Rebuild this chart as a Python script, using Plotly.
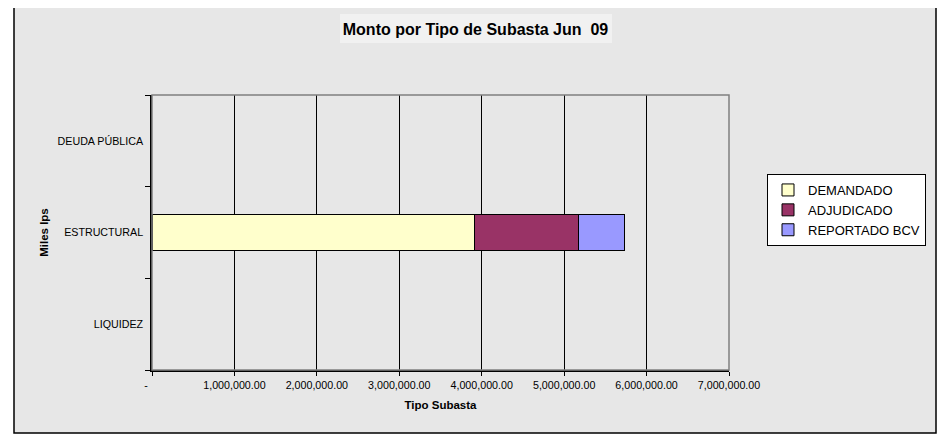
import plotly.graph_objects as go

categories = ["LIQUIDEZ", "ESTRUCTURAL", "DEUDA PÚBLICA"]
demandado = [None, 3913000, None]
adjudicado = [None, 1267000, None]
reportado = [None, 553000, None]
series_names = ["DEMANDADO", "ADJUDICADO", "REPORTADO BCV"]
series_colors = ["#FFFFCC", "#993366", "#9999FF"]
tick_vals = [0, 1000000, 2000000, 3000000, 4000000, 5000000, 6000000, 7000000]
tick_text = ["-\u00a0\u00a0\u00a0\u00a0", "1,000,000.00", "2,000,000.00", "3,000,000.00",
             "4,000,000.00", "5,000,000.00", "6,000,000.00", "7,000,000.00"]

FONT = "Liberation Sans, Arial, sans-serif"

fig = go.Figure()
for name, vals, col in zip(series_names, [demandado, adjudicado, reportado], series_colors):
    fig.add_trace(go.Bar(
        y=categories, x=vals, name=name, orientation="h",
        marker=dict(color=col, line=dict(color="#000000", width=1)),
    ))

# page body has an 8px margin; compensate so screen coordinates match
OFF = 8
W, H = 947 - OFF, 435 - OFF
L, R, T, B = 152 - OFF, 729 - OFF, 95 - OFF, 370 - OFF
pw, ph = R - L, B - T

def px(x):
    return (x - OFF - L) / pw

def py(y):
    return (B - (y - OFF)) / ph

shapes = [
    # outer chart area (marble-like background) with border
    dict(type="rect", xref="paper", yref="paper", x0=px(14), x1=px(936), y0=py(433), y1=py(2),
         fillcolor="#e7e7e7", line=dict(color="#000000", width=1.5), layer="below"),
    # title background
    dict(type="rect", xref="paper", yref="paper", x0=px(340), x1=px(612), y0=py(43), y1=py(14),
         fillcolor="#f1f1f1", line=dict(width=0), layer="below"),
    # plot-area border (top/right gray)
    dict(type="rect", xref="paper", yref="paper", x0=0, x1=1, y0=0, y1=1,
         line=dict(color="#808080", width=1.5), layer="above"),
]

fig.update_layout(
    width=W, height=H,
    margin=dict(l=L, r=W - R, t=T, b=H - B, pad=0, autoexpand=False),
    paper_bgcolor="#ffffff",
    plot_bgcolor="#C0C0C0",
    barmode="stack",
    bargap=0.6,
    font=dict(family=FONT, color="#000000", size=11),
    title=dict(text="<b>Monto por Tipo de Subasta Jun\u00a0 09</b>",
               font=dict(family=FONT, size=16, color="#000000"),
               x=(475.5 - OFF) / W, xref="container", xanchor="center",
               y=1 - (29 - OFF) / H, yref="container", yanchor="middle"),
    showlegend=True,
    legend=dict(x=px(767), y=py(174), xanchor="left", yanchor="top",
                bgcolor="#ffffff", bordercolor="#000000", borderwidth=1,
                font=dict(family=FONT, size=13, color="#000000"),
                traceorder="normal", itemwidth=30, tracegroupgap=0),
    shapes=shapes,
)

fig.update_xaxes(
    range=[0, 7000000], tickvals=tick_vals, ticktext=tick_text,
    showgrid=True, gridcolor="#000000", gridwidth=1, zeroline=False,
    showline=True, linecolor="#000000", linewidth=1.5,
    ticks="outside", ticklen=4, tickcolor="#000000", tickwidth=1,
    tickfont=dict(family=FONT, size=10.7, color="#000000"),
    title=dict(text="<b>Tipo Subasta</b>", font=dict(family=FONT, size=11.5, color="#000000"), standoff=11),
)
fig.update_yaxes(
    categoryorder="array", categoryarray=categories,
    range=[-0.5, 2.5], tickson="boundaries",
    showgrid=False, zeroline=False,
    showline=True, linecolor="#000000", linewidth=1.5,
    ticks="outside", ticklen=5, tickcolor="#000000", tickwidth=1,
    ticklabelstandoff=5,
    tickfont=dict(family=FONT, size=10.7, color="#000000"),
    title=dict(text="<b>Miles lps</b>", font=dict(family=FONT, size=11.5, color="#000000"), standoff=7),
)

fig.write_html("out.html")
